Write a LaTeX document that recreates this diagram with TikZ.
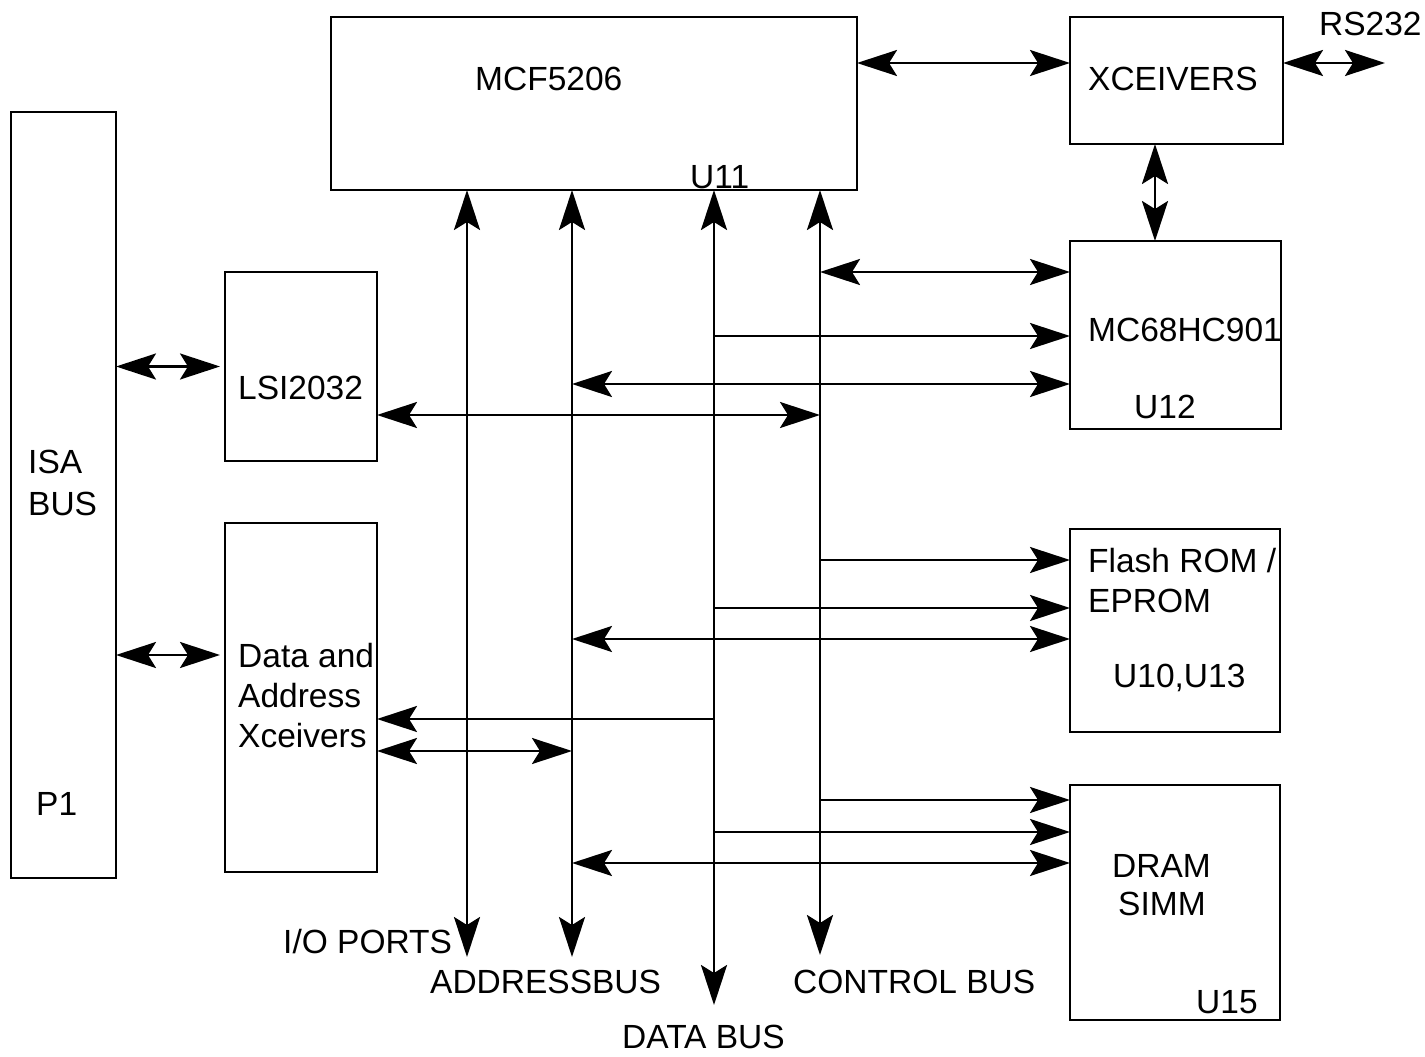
\documentclass[tikz,border=0pt]{standalone}
\usepackage{fontspec}
\setmainfont{Liberation Sans}
\usetikzlibrary{arrows.meta,positioning}

\begin{document}
\begin{tikzpicture}[x=1pt, y=-1pt,
    every node/.style={font=\fontsize{33.5}{40}\selectfont},
    >={Stealth[length=40pt, width=26pt, inset=8pt]},
    box/.style={draw, line width=2.8pt, inner sep=0pt, outer sep=0pt},
    lbl/.style={anchor=base west, inner sep=0pt},
    conn/.style={line width=2.6pt, ->},
    biconn/.style={line width=2.6pt, <->}]

    \useasboundingbox (0,0) rectangle (1425,1057);

    % Boxes
    \node[box, minimum width=105pt, minimum height=766pt] (isa) at (63.5,495) {};
    \node[box, minimum width=152pt, minimum height=189pt] (lsi) at (301,366.5) {};
    \node[box, minimum width=152pt, minimum height=349pt] (xcv) at (301,697.5) {};
    \node[box, minimum width=526pt, minimum height=173pt] (mcf) at (594,103.5) {};
    \node[box, minimum width=213pt, minimum height=127pt] (xcvr) at (1176.5,80.5) {};
    \node[box, minimum width=211pt, minimum height=188pt] (mc68) at (1175.5,335) {};
    \node[box, minimum width=210pt, minimum height=203pt] (flash) at (1175,630.5) {};
    \node[box, minimum width=210pt, minimum height=235pt] (dram) at (1175,902.5) {};

    % Labels inside boxes
    \node[lbl] (isat) at (28,473) {ISA};
    \node[lbl] (isab) at (28,515) {BUS};
    \node[lbl] (isap) at (36,815) {P1};
    \node[lbl] (lsit) at (238,399) {LSI2032};
    \node[lbl] (xcv1) at (238,667) {Data and};
    \node[lbl] (xcv2) at (238,707) {Address};
    \node[lbl] (xcv3) at (238,747) {Xceivers};
    \node[lbl] (mcft) at (475,90) {MCF5206};
    \node[lbl] (mcfu) at (690,188) {U11};
    \node[lbl] (xcvrt) at (1088,91) {XCEIVERS};
    \node[lbl] (rst) at (1319,36) {RS232};
    \node[lbl] (mc68t) at (1088,341) {MC68HC901};
    \node[lbl] (mc68u) at (1134,418) {U12};
    \node[lbl] (flash1) at (1088,572) {Flash ROM /};
    \node[lbl] (flash2) at (1088,612) {EPROM};
    \node[lbl] (flashu) at (1113,687) {U10,U13};
    \node[lbl] (dram1) at (1112,877) {DRAM};
    \node[lbl] (dram2) at (1118,915) {SIMM};
    \node[lbl] (dramu) at (1196,1013) {U15};

    % Bus names
    \node[lbl] (iot) at (283,953) {I/O PORTS};
    \node[lbl] (adt) at (430,993) {ADDRESSBUS};
    \node[lbl] (dat) at (622,1048) {DATA BUS};
    \node[lbl] (ctt) at (793,993) {CONTROL BUS};

    % Vertical buses
    \coordinate (ioend) at (467,957);
    \coordinate (adend) at (572,957);
    \coordinate (daend) at (714,1005);
    \coordinate (ctend) at (820,955);
    \draw[biconn] (ioend |- mcf.south) -- (ioend);
    \draw[biconn] (adend |- mcf.south) -- (adend);
    \draw[biconn] (daend |- mcf.south) -- (daend);
    \draw[biconn] (ctend |- mcf.south) -- (ctend);

    % Taps on the buses
    \coordinate (c1) at (820,272);
    \coordinate (d1) at (714,336);
    \coordinate (a1) at (572,384);
    \coordinate (c2) at (820,415);
    \coordinate (c3) at (820,560);
    \coordinate (d2) at (714,608);
    \coordinate (a2) at (572,639);
    \coordinate (d3) at (714,719);
    \coordinate (a3) at (572,751);
    \coordinate (c4) at (820,800);
    \coordinate (d4) at (714,832);
    \coordinate (a4) at (572,863);

    % Serial side
    \coordinate (rs) at (1385,63);
    \draw[biconn] (mcf.east |- rs) -- (xcvr.west |- rs);
    \draw[biconn] (xcvr.east |- rs) -- (rs);
    \draw[biconn] ([xshift=-21.5pt]xcvr.south) -- ([xshift=-21.5pt]xcvr.south |- mc68.north);

    % MC68HC901
    \draw[biconn] (c1) -- (c1 -| mc68.west);
    \draw[conn] (d1) -- (d1 -| mc68.west);
    \draw[biconn] (a1) -- (a1 -| mc68.west);
    \draw[biconn] (lsi.east |- c2) -- (c2);

    % Flash ROM
    \draw[conn] (c3) -- (c3 -| flash.west);
    \draw[conn] (d2) -- (d2 -| flash.west);
    \draw[biconn] (a2) -- (a2 -| flash.west);

    % Xceivers
    \draw[conn] (d3) -- (d3 -| xcv.east);
    \draw[biconn] (xcv.east |- a3) -- (a3);

    % DRAM
    \draw[conn] (c4) -- (c4 -| dram.west);
    \draw[conn] (d4) -- (d4 -| dram.west);
    \draw[biconn] (a4) -- (a4 -| dram.west);

    % ISA side
    \draw[biconn, shorten >=5pt] (isa.east |- lsi.west) -- (lsi.west);
    \draw[biconn, shorten >=5pt] (isa.east |- xcv.west) ++(0,-42.5) -- ([yshift=42.5pt]xcv.west);
\end{tikzpicture}
\end{document}
